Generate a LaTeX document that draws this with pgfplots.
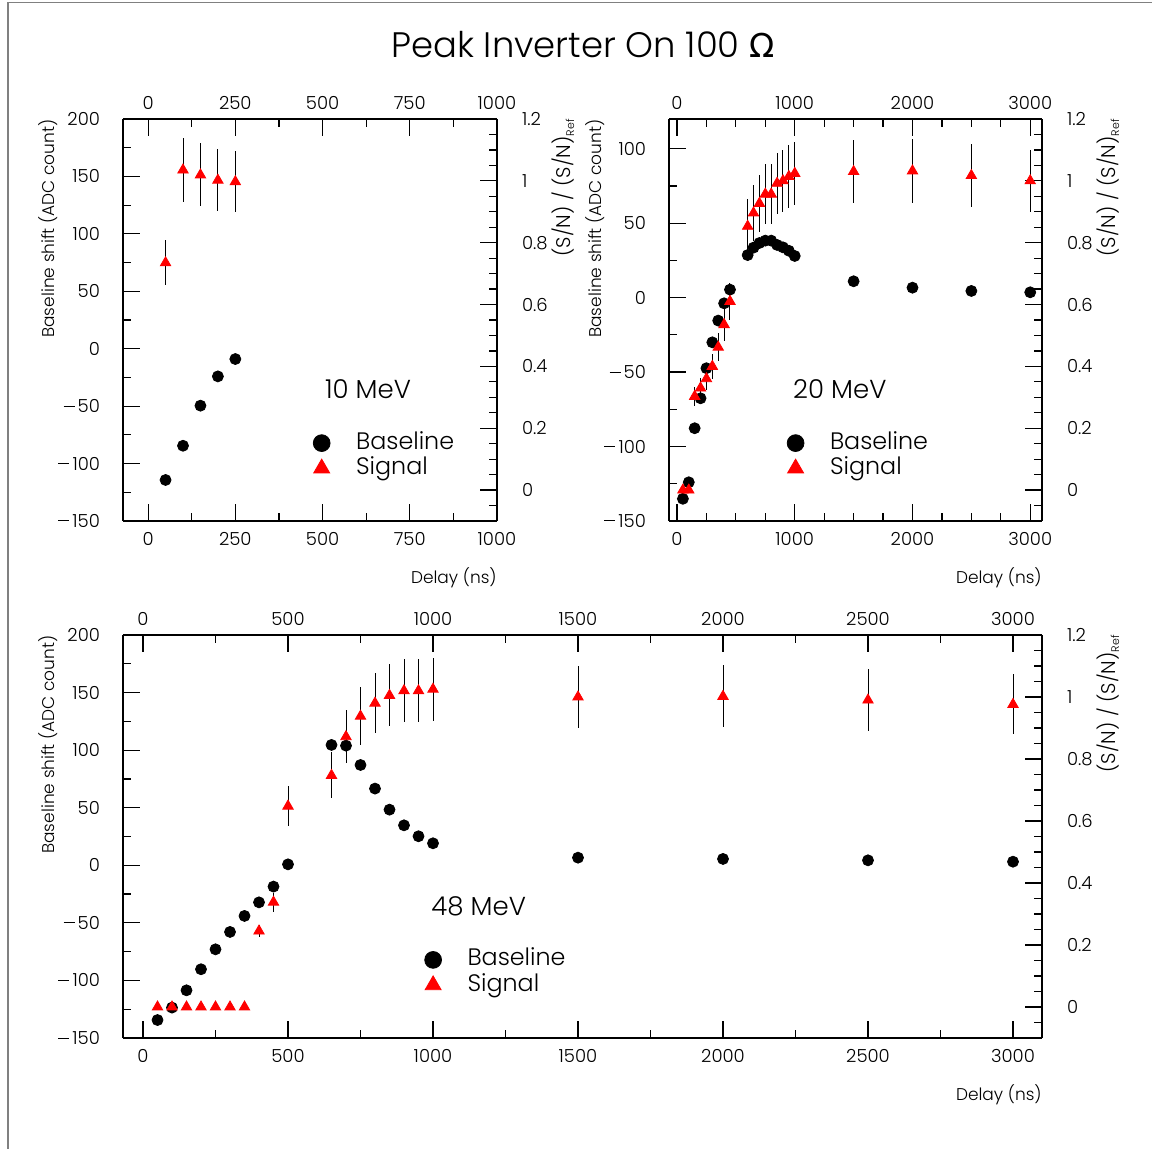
\documentclass[border=0pt]{standalone}
\usepackage{fontspec}
\setmainfont{Poppins Light}
\newfontfamily\omegafont{DejaVu Sans}
\usepackage{pgfplots}
\pgfplotsset{compat=1.18}

\pgfplotstableread{
x y
50 -114.3
100 -84.5
150 -49.6
200 -24.1
250 -9
}\baseA
\pgfplotstableread{
x y e
50 0.735 0.073
100 1.035 0.103
150 1.019 0.102
200 1.002 0.100
250 0.997 0.099
}\sigA
\pgfplotstableread{
x y
50 -135.1
100 -124
150 -87.7
200 -67.6
250 -47.4
300 -30
350 -15.4
400 -3.8
450 5.4
600 28.6
650 33.6
700 36.7
750 38.3
800 38.3
850 35.4
900 33.8
950 31.5
1000 28
1500 11
2000 6.7
2500 4.5
3000 3.6
}\baseB
\pgfplotstableread{
x y e
50 0.0 0.01
100 0.0 0.01
150 0.303 0.03
200 0.33 0.033
250 0.36 0.036
300 0.40 0.04
350 0.462 0.046
400 0.535 0.054
450 0.61 0.061
600 0.853 0.087
650 0.896 0.09
700 0.927 0.093
750 0.957 0.096
800 0.957 0.096
850 0.992 0.099
900 1.0 0.1
950 1.014 0.101
1000 1.024 0.102
1500 1.03 0.102
2000 1.032 0.103
2500 1.017 0.102
3000 1.0 0.1
}\sigB
\pgfplotstableread{
x y
50 -134.4
100 -123.6
150 -108.6
200 -90.3
250 -73
300 -57.9
350 -44
400 -32.2
450 -18.5
500 0.8
650 104.5
700 103.9
750 87.1
800 66.6
850 48.3
900 34.7
950 25.2
1000 19.1
1500 6.6
2000 5.5
2500 4.3
3000 3.1
}\baseC
\pgfplotstableread{
x y e
50 0 0
100 0 0
150 0 0
200 0 0
250 0 0
300 0 0
350 0 0
400 0.245 0.02
450 0.338 0.03
500 0.648 0.065
650 0.747 0.074
700 0.872 0.086
750 0.938 0.093
800 0.98 0.097
850 1.005 0.1
900 1.02 0.101
950 1.02 0.101
1000 1.025 0.102
1500 1.0 0.099
2000 1.002 0.1
2500 0.99 0.099
3000 0.976 0.097
}\sigC

\newcommand{\mn}{\raisebox{3.0pt}{\rule{5.5pt}{0.5pt}}\hspace{1.6pt}}
\pgfplotsset{
  rootbase/.style={
    scale only axis, clip=false,
    tick align=inside,
    major tick length=8.5pt, minor tick length=4pt,
    every tick/.style={black, line width=0.6pt},
    axis line style={black, line width=0.9pt},
    /pgf/number format/assume math mode=true,
    /pgf/number format/1000 sep={},
    ticklabel style={font=\fontsize{9}{10}\selectfont},
  },
  rootleft/.style={
    rootbase,
    axis x line*=bottom, axis y line*=left,
    xticklabel style={yshift=-2pt},
    yticklabel style={xshift=-8pt},
    minor y tick num=1,
  },
  rootright/.style={
    rootbase,
    axis x line*=top, axis y line*=right,
    xticklabel style={yshift=1.2pt},
    yticklabel style={xshift=9pt, anchor=west},
    ymin=-0.1, ymax=1.2,
    ytick={0,0.2,0.4,0.6,0.8,1,1.2},
    minor ytick={-0.05,0.05,0.1,0.15,0.25,0.3,0.35,0.45,0.5,0.55,0.65,0.7,0.75,0.85,0.9,0.95,1.05,1.1,1.15},
    yticklabels={0,0.2,0.4,0.6,0.8,1,1.2},
    legend style={draw=none, fill=none, anchor=north west,
      font=\fontsize{11.9}{12}\selectfont, row sep=1.6pt,
      nodes={inner sep=0pt, text height=8.5pt, text depth=2.5pt}},
    legend cell align=left,
    legend image code/.code={\draw[##1] plot coordinates {(0pt,0pt)}; \path (-6pt,0pt) (17pt,0pt);},
  },
  basemark/.style={only marks, mark=*, mark size=2.75pt, black, mark options={draw=black, fill=black}},
  sigmark/.style={only marks, mark=triangle*, mark size=3pt, red, mark options={draw=red, fill=red},
    error bars/y dir=both, error bars/y explicit, error bars/error mark=none,
    error bars/error bar style={black, line width=0.5pt}},
}
\newcommand{\labfont}{\fontsize{8.5}{10}\selectfont}
\newcommand{\snfont}{\fontsize{9.9}{11}\selectfont}
\newcommand{\enfont}{\fontsize{13}{14}\selectfont}
\newcommand{\snlabel}{(S/N) / (S/N)\raisebox{-0.35ex}{\fontsize{5.5}{6}\selectfont Ref}}

\begin{document}
\begin{tikzpicture}
\useasboundingbox (0,0) rectangle (576pt,574.5pt);
\draw[gray, line width=0.6pt] (4pt,0) -- (4pt,573.3pt) -- (576pt,573.3pt);
\node[font=\fontsize{17.7}{18}\selectfont] at (291.5pt,552pt) {Peak Inverter On 100 {\omegafont\fontsize{16.5}{18}\selectfont Ω}};

% ---------- Panel A : 10 MeV ----------
\begin{axis}[rootleft, at={(61.5pt,314pt)}, anchor=south west, width=187pt, height=201pt,
  xmin=-72, xmax=1000, ymin=-150, ymax=200,
  xtick={0,250,500,750,1000}, minor xtick={125,375,625,875},
  ytick={-150,-100,-50,0,50,100,150,200},
  yticklabels={\mn150,\mn100,\mn50,0,50,100,150,200}]
\addplot[basemark] table[x=x,y=y] {\baseA};
\node[rotate=90, anchor=east, inner sep=0pt, font=\labfont] at ([xshift=-37.5pt]rel axis cs:0,1) {Baseline shift (ADC count)};
\node[anchor=east, inner sep=0pt, font=\labfont] at ([yshift=-28.5pt]rel axis cs:1,0) {Delay (ns)};
\node[font=\enfont] at (rel axis cs:0.655,0.328) {10 MeV};
\end{axis}
\begin{axis}[rootright, at={(61.5pt,314pt)}, anchor=south west, width=187pt, height=201pt,
  xmin=-72, xmax=1000,
  xtick={0,250,500,750,1000}, minor xtick={125,375,625,875},
  legend style={at={(rel axis cs:0.481,0.232)}}]
\addplot[forget plot, sigmark] table[x=x,y=y,y error=e] {\sigA};
\addlegendimage{only marks, mark=*, mark size=4.2pt, black}
\addlegendentry{Baseline}
\addlegendimage{only marks, mark=triangle*, mark size=4.6pt, red, mark options={fill=red, draw=red}}
\addlegendentry{Signal}
\node[rotate=90, anchor=east, inner sep=0pt, font=\snfont] at ([xshift=33pt]rel axis cs:1,1) {\snlabel};
\end{axis}

% ---------- Panel B : 20 MeV ----------
\begin{axis}[rootleft, at={(334.5pt,314pt)}, anchor=south west, width=186.5pt, height=201pt,
  xmin=-68, xmax=3100, ymin=-150, ymax=120,
  xtick={0,1000,2000,3000}, minor x tick num=3,
  ytick={-150,-100,-50,0,50,100},
  yticklabels={\mn150,\mn100,\mn50,0,50,100}]
\addplot[basemark] table[x=x,y=y] {\baseB};
\node[rotate=90, anchor=east, inner sep=0pt, font=\labfont] at ([xshift=-37pt]rel axis cs:0,1) {Baseline shift (ADC count)};
\node[anchor=east, inner sep=0pt, font=\labfont] at ([yshift=-28.5pt]rel axis cs:1,0) {Delay (ns)};
\node[font=\enfont] at (rel axis cs:0.458,0.328) {20 MeV};
\end{axis}
\begin{axis}[rootright, at={(334.5pt,314pt)}, anchor=south west, width=186.5pt, height=201pt,
  xmin=-68, xmax=3100,
  xtick={0,1000,2000,3000}, minor x tick num=3,
  legend style={at={(rel axis cs:0.289,0.232)}}]
\addplot[forget plot, sigmark] table[x=x,y=y,y error=e] {\sigB};
\addlegendimage{only marks, mark=*, mark size=4.2pt, black}
\addlegendentry{Baseline}
\addlegendimage{only marks, mark=triangle*, mark size=4.6pt, red, mark options={fill=red, draw=red}}
\addlegendentry{Signal}
\node[rotate=90, anchor=east, inner sep=0pt, font=\snfont] at ([xshift=33pt]rel axis cs:1,1) {\snlabel};
\end{axis}

% ---------- Panel C : 48 MeV ----------
\begin{axis}[rootleft, at={(61.5pt,55.5pt)}, anchor=south west, width=459.5pt, height=201.5pt,
  xmin=-69, xmax=3100, ymin=-150, ymax=200,
  xtick={0,500,1000,1500,2000,2500,3000}, minor x tick num=1,
  ytick={-150,-100,-50,0,50,100,150,200},
  yticklabels={\mn150,\mn100,\mn50,0,50,100,150,200}]
\addplot[basemark] table[x=x,y=y] {\baseC};
\node[rotate=90, anchor=east, inner sep=0pt, font=\labfont] at ([xshift=-37.5pt]rel axis cs:0,1) {Baseline shift (ADC count)};
\node[anchor=east, inner sep=0pt, font=\labfont] at ([yshift=-28.5pt]rel axis cs:1,0) {Delay (ns)};
\node[font=\enfont] at (rel axis cs:0.387,0.3275) {48 MeV};
\end{axis}
\begin{axis}[rootright, at={(61.5pt,55.5pt)}, anchor=south west, width=459.5pt, height=201.5pt,
  xmin=-69, xmax=3100,
  xtick={0,500,1000,1500,2000,2500,3000}, minor x tick num=1,
  legend style={at={(rel axis cs:0.317,0.232)}}]
\addplot[forget plot, sigmark] table[x=x,y=y,y error=e] {\sigC};
\addlegendimage{only marks, mark=*, mark size=4.2pt, black}
\addlegendentry{Baseline}
\addlegendimage{only marks, mark=triangle*, mark size=4.6pt, red, mark options={fill=red, draw=red}}
\addlegendentry{Signal}
\node[rotate=90, anchor=east, inner sep=0pt, font=\snfont] at ([xshift=33pt]rel axis cs:1,1) {\snlabel};
\end{axis}
\end{tikzpicture}
\end{document}
